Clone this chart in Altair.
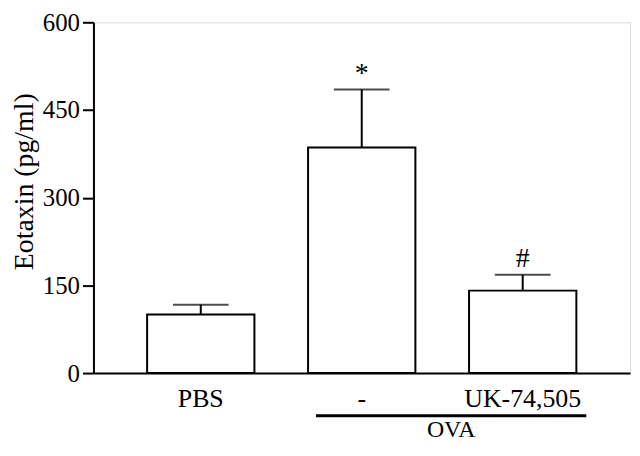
import altair as alt
import pandas as pd

groups = ["PBS", "-", "UK-74,505"]
means = [100, 386, 141]
err_tops = [117, 485, 168]
marks = ["", "*", "#"]

df = pd.DataFrame({"group": groups, "mean": means, "err": err_tops, "mark": marks})

FONT = "Liberation Serif"
W, H = 540, 353

x_enc = alt.X("group:N", sort=groups,
              scale=alt.Scale(paddingInner=1/3, paddingOuter=1/3),
              axis=alt.Axis(title=None, labelAngle=0, ticks=False, labelPadding=13,
                            labelFont=FONT, labelFontSize=26, labelColor="black",
                            domainColor="black", domainWidth=2))
y_scale = alt.Scale(domain=[0, 600], nice=False)

base = alt.Chart(df)

bars = base.mark_bar(fill="white", stroke="black", strokeWidth=2).encode(
    x=x_enc,
    y=alt.Y("mean:Q", scale=y_scale,
            axis=alt.Axis(values=[0, 150, 300, 450, 600], grid=False, tickSize=11,
                          tickWidth=2, tickColor="black", domainColor="black", domainWidth=2,
                          labelFont=FONT, labelFontSize=25, labelColor="black", labelPadding=3,
                          title="Eotaxin (pg/ml)", titleFont=FONT, titleFontSize=28,
                          titleFontWeight="normal", titleColor="black",
                          titleX=-69, titleY=160, titleAngle=270,
                          titleAlign="center", titleBaseline="middle")),
)

stems = base.mark_rule(color="black", strokeWidth=2).encode(
    x=alt.X("group:N", sort=groups),
    y=alt.Y("mean:Q", scale=y_scale),
    y2="err:Q",
)

caps = base.mark_tick(color="black", size=56, thickness=2, orient="horizontal").encode(
    x=alt.X("group:N", sort=groups),
    y=alt.Y("err:Q", scale=y_scale),
)

sig = base.mark_text(font=FONT, fontSize=28, color="black", dy=-16).encode(
    x=alt.X("group:N", sort=groups),
    y=alt.Y("err:Q", scale=y_scale),
    text="mark:N",
)

ova_line = alt.Chart(pd.DataFrame({"g": ["OVA"]})).mark_rule(color="black", strokeWidth=3).encode(
    x=alt.value(224), x2=alt.value(496), y=alt.value(396)
)
ova_text = alt.Chart(pd.DataFrame({"g": ["OVA"]})).mark_text(
    font=FONT, fontSize=24, color="black", baseline="middle"
).encode(x=alt.value(360), y=alt.value(410), text="g:N")

chart = alt.layer(bars, stems, caps, sig, ova_line, ova_text).properties(
    width=W, height=H,
    padding={"left": 86, "top": 13, "right": 2, "bottom": 69},
    autosize=alt.AutoSizeParams(type="none"),
).configure_view(stroke=None).configure(background="white")

chart.save("out.html", embed_options={"renderer": "svg", "actions": False})
